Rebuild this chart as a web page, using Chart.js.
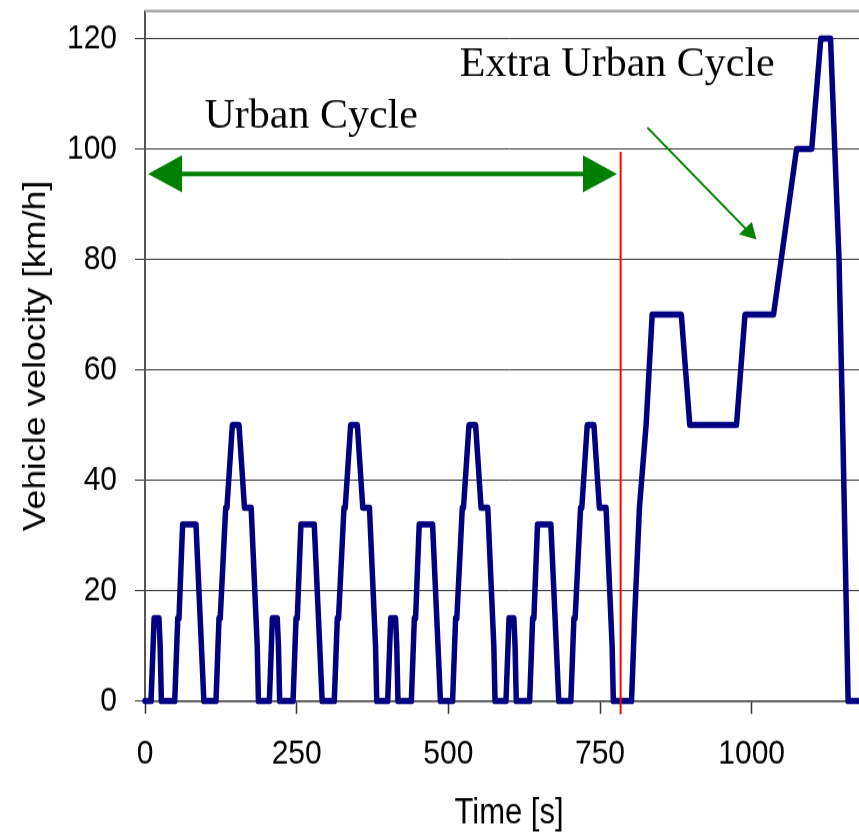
<!DOCTYPE html>
<html>
<head>
<meta charset="utf-8">
<title>NEDC driving cycle</title>
<script src="https://cdn.jsdelivr.net/npm/chart.js@4.4.0/dist/chart.umd.min.js"></script>
<style>
  html, body { margin: 0; padding: 0; background: #fff; overflow: hidden; }
  /* chart is drawn 726px tall and stretched to the page height */
  #wrap {
    position: absolute; left: 0; top: 0;
    width: 880px; height: 726px;
    transform: scaleY(1.15); transform-origin: 0 0;
  }
</style>
</head>
<body>
<div id="wrap"><canvas id="cycleChart"></canvas></div>
<script>
// Four urban (ECE-15) cycles, seconds / km/h
const urbanTime = [
  0, 10, 15, 23, 25, 27, 49, 54, 56, 62, 84, 93, 97, 117, 122, 124, 133, 135, 144, 155, 164, 175, 185, 187,
  195, 205, 210, 218, 220, 222, 244, 249, 251, 257, 279, 288, 292, 312, 317, 319, 328, 330, 339, 350, 359, 370, 380, 382,
  390, 400, 405, 413, 415, 417, 439, 444, 446, 452, 474, 483, 487, 507, 512, 514, 523, 525, 534, 545, 554, 565, 575, 577,
  585, 595, 600, 608, 610, 612, 634, 639, 641, 647, 669, 678, 682, 702, 707, 709, 718, 720, 729, 740, 749, 760, 770, 772,
];
const urbanSpeed = [
  0, 0, 15, 15, 10, 0, 0, 15, 15, 32, 32, 10, 0, 0, 15, 15, 35, 35, 50, 50, 35, 35, 10, 0,
  0, 0, 15, 15, 10, 0, 0, 15, 15, 32, 32, 10, 0, 0, 15, 15, 35, 35, 50, 50, 35, 35, 10, 0,
  0, 0, 15, 15, 10, 0, 0, 15, 15, 32, 32, 10, 0, 0, 15, 15, 35, 35, 50, 50, 35, 35, 10, 0,
  0, 0, 15, 15, 10, 0, 0, 15, 15, 32, 32, 10, 0, 0, 15, 15, 35, 35, 50, 50, 35, 35, 10, 0,
];
// Extra urban cycle
const extraTime = [780, 802, 807, 815, 826, 836, 884, 898, 975, 989, 1036, 1074, 1099, 1114, 1130, 1144, 1150, 1159, 1180];
const extraSpeed = [0, 0, 15, 35, 50, 70, 70, 50, 50, 70, 70, 100, 100, 120, 120, 80, 50, 0, 0];

const timeTicks = [0, 250, 500, 750, 1000];
const speedTicks = [0, 20, 40, 60, 80, 100, 120];

// Annotations (time in s, speed in km/h)
const labelText = ["Urban Cycle", "Extra Urban Cycle"];
const labelTime = [98, 519];
const labelSpeed = [103.8, 113.2];
const urbanArrowTime = [5, 778];
const urbanArrowSpeed = 95.5;
const splitTime = 784;
const splitSpeed = [99.5, -2.4];
const pointerTime = [828, 1008];
const pointerSpeed = [103.9, 83.6];

const STRETCH = 1.15;
const SANS = "'Liberation Sans', Arial, sans-serif";
const SERIF = "'Liberation Serif', 'Times New Roman', serif";

const cycleTime = urbanTime.concat(extraTime);
const cycleSpeed = urbanSpeed.concat(extraSpeed);
const points = cycleTime.map((t, i) => ({ x: t, y: cycleSpeed[i] }));

function arrowHead(ctx, fromX, fromY, tipX, tipY, len, half) {
  const a = Math.atan2(tipY - fromY, tipX - fromX);
  const bx = tipX - len * Math.cos(a);
  const by = tipY - len * Math.sin(a);
  const nx = -Math.sin(a) * half;
  const ny = Math.cos(a) * half;
  ctx.beginPath();
  ctx.moveTo(tipX, tipY);
  ctx.lineTo(bx + nx, by + ny);
  ctx.lineTo(bx - nx, by - ny);
  ctx.closePath();
  ctx.fill();
}

const annotations = {
  id: "annotations",
  afterDraw(chart) {
    const { ctx, chartArea, scales: { x, y } } = chart;
    const px = (t) => x.getPixelForValue(t);
    const py = (v) => y.getPixelForValue(v) * STRETCH;

    ctx.save();
    ctx.scale(1, 1 / STRETCH); // draw in page pixels, unstretched

    // top edge of plot frame
    ctx.strokeStyle = "#a0a0a0";
    ctx.lineWidth = 2.5;
    ctx.beginPath();
    ctx.moveTo(chartArea.left, chartArea.top * STRETCH);
    ctx.lineTo(chartArea.right, chartArea.top * STRETCH);
    ctx.stroke();

    // boundary between urban and extra urban parts
    ctx.strokeStyle = "#ff0000";
    ctx.lineWidth = 2;
    ctx.beginPath();
    ctx.moveTo(px(splitTime), py(splitSpeed[0]));
    ctx.lineTo(px(splitTime), py(splitSpeed[1]));
    ctx.stroke();

    // double arrow over the urban part
    ctx.strokeStyle = "#008000";
    ctx.fillStyle = "#008000";
    const ay = py(urbanArrowSpeed);
    const ax0 = px(urbanArrowTime[0]);
    const ax1 = px(urbanArrowTime[1]);
    ctx.lineWidth = 4.5;
    ctx.beginPath();
    ctx.moveTo(ax0 + 20, ay);
    ctx.lineTo(ax1 - 20, ay);
    ctx.stroke();
    arrowHead(ctx, ax1, ay, ax0, ay, 34, 18.5);
    arrowHead(ctx, ax0, ay, ax1, ay, 34, 18.5);

    // pointer to the extra urban part
    const p0x = px(pointerTime[0]), p0y = py(pointerSpeed[0]);
    const p1x = px(pointerTime[1]), p1y = py(pointerSpeed[1]);
    ctx.lineWidth = 2;
    ctx.beginPath();
    ctx.moveTo(p0x, p0y);
    ctx.lineTo(p1x - 8, p1y - 8);
    ctx.stroke();
    arrowHead(ctx, p0x, p0y, p1x, p1y, 16, 9);

    // labels
    ctx.fillStyle = "#000";
    ctx.font = "42px " + SERIF;
    ctx.textAlign = "left";
    ctx.textBaseline = "alphabetic";
    labelText.forEach((txt, i) => {
      ctx.fillText(txt, px(labelTime[i]), py(labelSpeed[i]));
    });

    ctx.restore();
  },
};

new Chart(document.getElementById("cycleChart").getContext("2d"), {
  type: "line",
  data: {
    datasets: [
      {
        label: "Vehicle velocity",
        data: points,
        borderColor: "#000080",
        backgroundColor: "#000080",
        borderWidth: 5.5,
        borderJoinStyle: "round",
        borderCapStyle: "round",
        pointRadius: 0,
        tension: 0,
        fill: false,
        clip: false,
      },
    ],
  },
  options: {
    responsive: true,
    maintainAspectRatio: false,
    animation: false,
    events: [],
    layout: { padding: { top: 9.6, right: 7, bottom: 0, left: 0 } },
    plugins: {
      legend: { display: false },
      tooltip: { enabled: false },
    },
    scales: {
      x: {
        type: "linear",
        min: 0,
        max: 1200,
        afterBuildTicks: (axis) => {
          axis.ticks = timeTicks.map((v) => ({ value: v }));
        },
        afterFit: (axis) => {
          axis.height = 116.4;
          axis.paddingLeft = 0;
          axis.paddingRight = 0;
        },
        grid: {
          drawOnChartArea: false,
          tickLength: 11,
          tickColor: "#333",
          tickWidth: 1.5,
        },
        border: { color: "#333", width: 1.5 },
        ticks: {
          color: "#000",
          font: { family: SANS, size: 30 },
          padding: 17,
          maxRotation: 0,
          callback: (v) => String(v),
        },
        title: {
          display: true,
          text: "Time [s]",
          color: "#000",
          font: { family: SANS, size: 31 },
          padding: { top: 0, bottom: 0 },
        },
      },
      y: {
        min: 0,
        max: 125,
        afterBuildTicks: (axis) => {
          axis.ticks = speedTicks.map((v) => ({ value: v }));
        },
        afterFit: (axis) => {
          axis.width = 145;
          axis.paddingTop = 0;
          axis.paddingBottom = 0;
        },
        grid: {
          color: "#3a3a3a",
          lineWidth: 1,
          tickLength: 10,
          tickColor: "#333",
        },
        border: { color: "#555", width: 2 },
        ticks: {
          color: "#000",
          font: { family: SANS, size: 30 },
          padding: 18,
          callback: (v) => String(v),
        },
        title: {
          display: true,
          text: "Vehicle velocity [km/h]",
          color: "#000",
          font: { family: SANS, size: 31 },
          padding: { top: 18, bottom: 0 },
        },
      },
    },
  },
  plugins: [annotations],
});
</script>
</body>
</html>
